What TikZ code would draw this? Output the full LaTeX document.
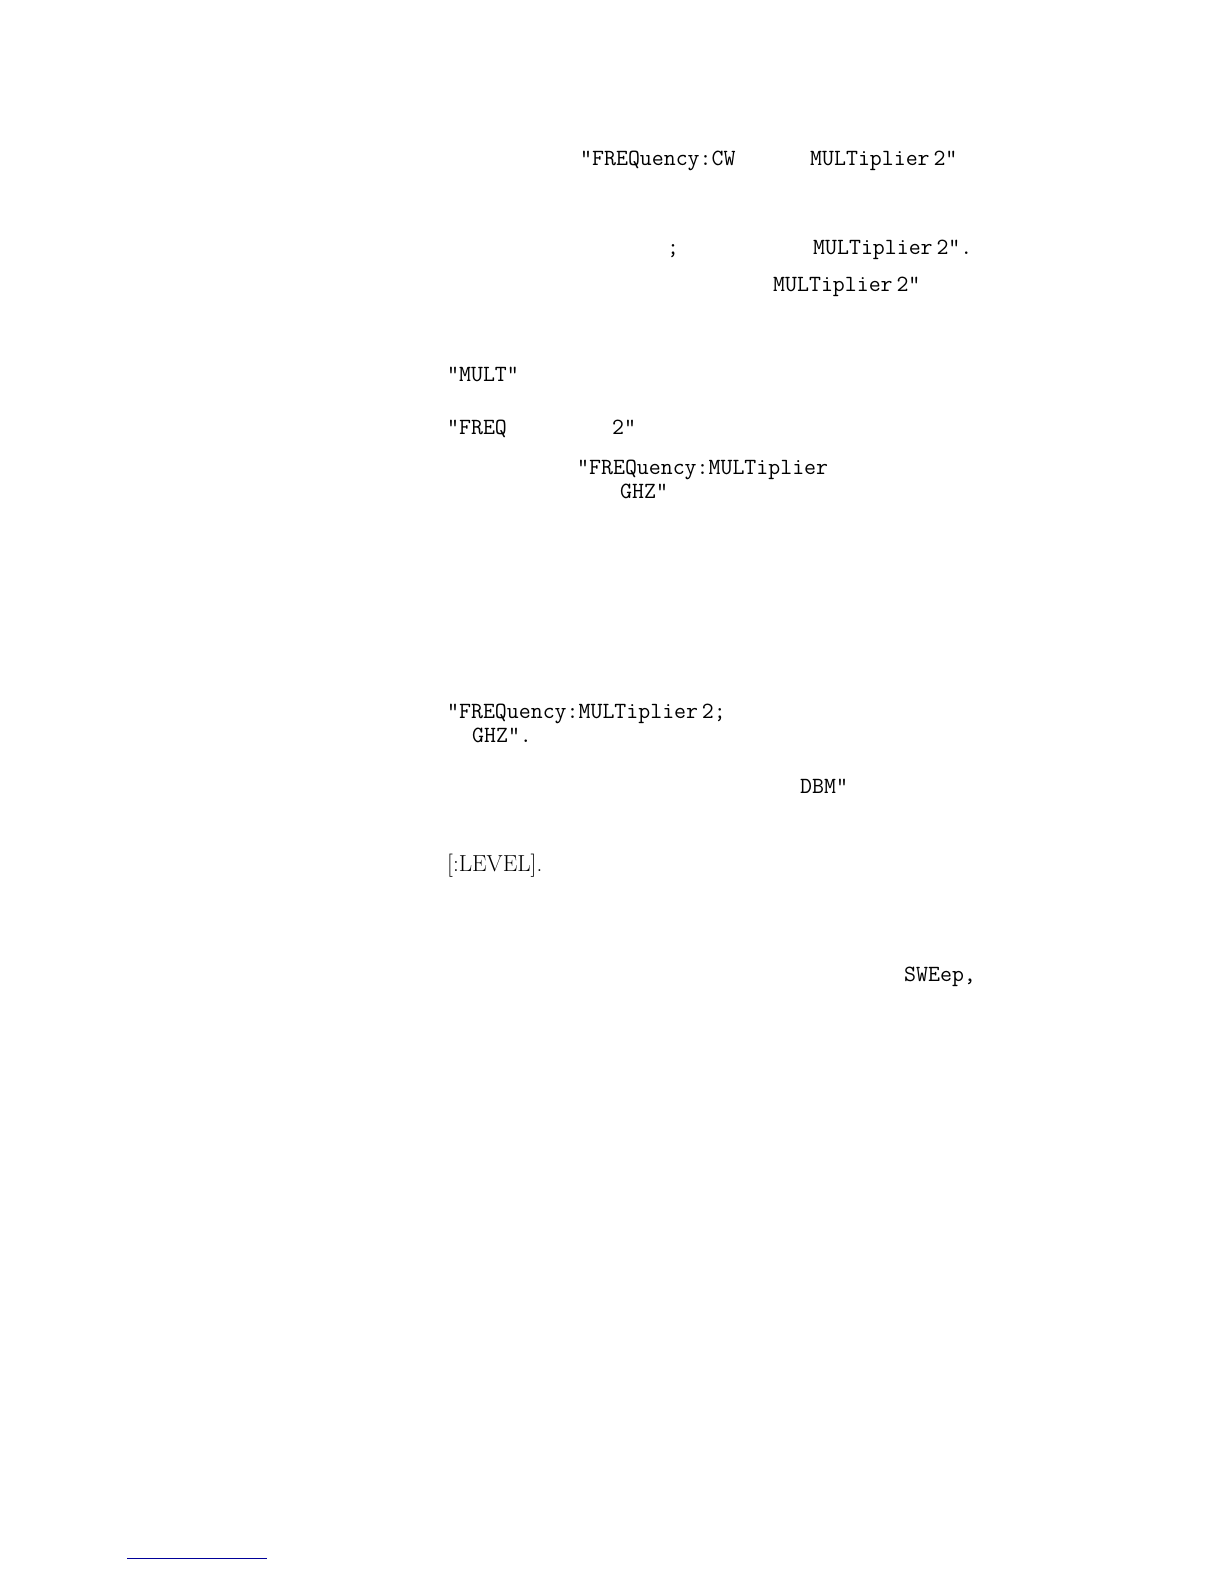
\documentclass[tikz,border=0pt]{standalone}
\begin{document}
\begin{tikzpicture}[x=1pt,y=-1pt,
  tt/.style={anchor=base west,inner sep=0pt,font=\fontsize{23.2}{27}\selectfont\ttfamily},
  rm/.style={anchor=base west,inner sep=0pt,font=\fontsize{23.2}{27}\selectfont\rmfamily}]
\useasboundingbox (0,0) rectangle (1224,1584);
\node[tt] (a1) at (580,165) {"FREQuency:CW};
\node[tt] (a2) at (810,165) {MULTiplier\,2"};
\node[tt] (b1) at (667,254) {;};
\node[tt] (b2) at (813,254) {MULTiplier\,2".};
\node[tt] (c1) at (773,291) {MULTiplier\,2"};
\node[tt] (d1) at (447,381) {"MULT"};
\node[tt] (e1) at (447,434) {"FREQ};
\node[tt] (e2) at (612,434) {2"};
\node[tt] (f1) at (577,474) {"FREQuency:MULTiplier};
\node[tt] (g1) at (620,498) {GHZ"};
\node[tt] (h1) at (447,718) {"FREQuency:MULTiplier\,2;};
\node[tt] (i1) at (472,742) {GHZ".};
\node[tt] (j1) at (800,793) {DBM"};
\node[rm] (k1) at (447,871) {[:LEVEL].};
\node[tt] (l1) at (904,981) {SWEep,};
\coordinate (u1) at (127,1558);
\coordinate (u2) at (267,1558);
\draw[blue!60!black,line width=1pt] (u1) -- (u2);
\end{tikzpicture}
\end{document}
